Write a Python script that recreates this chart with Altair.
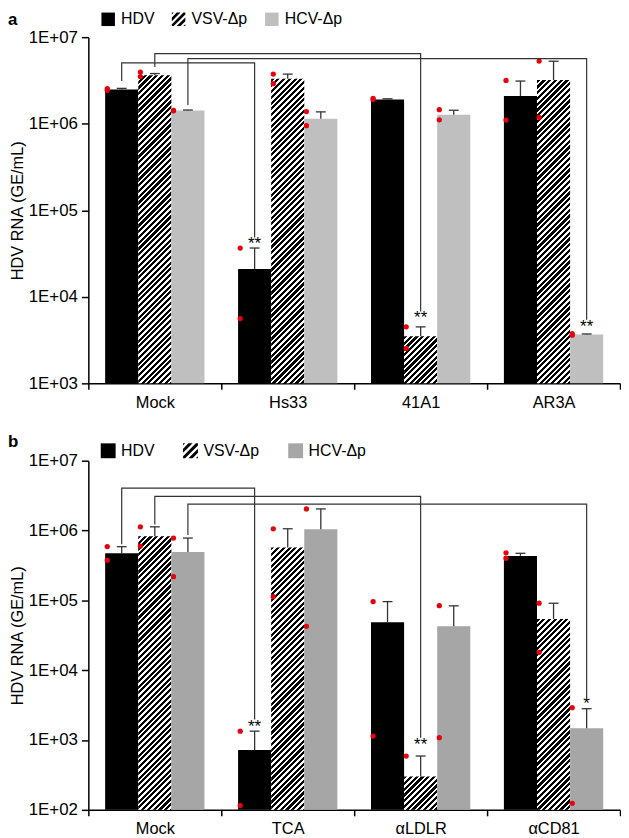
import json
import math
import altair as alt

FONT = "Liberation Sans"
SERIES = ["HDV", "VSV-Δp", "HCV-Δp"]

# ---------------- panel a ----------------
CATS_A = ["Mock", "Hs33", "41A1", "AR3A"]
HDV_A = [2.49e6, 2.1e4, 1.91e6, 2.09e6]
HDV_A_ERR = [2.56e6, 3.66e4, 1.94e6, 3.11e6]
VSV_A = [3.64e6, 3.3e6, 3.5e3, 3.19e6]
VSV_A_ERR = [3.8e6, 3.74e6, 4.49e3, 5.27e6]
HCV_A = [1.42e6, 1.14e6, 1.27e6, 3.66e3]
HCV_A_ERR = [1.44e6, 1.37e6, 1.43e6, 3.72e3]
HDV_A_PTS = [[2.55e6, 2.43e6], [3.66e4, 5.6e3], [1.96e6, 1.9e6], [3.16e6, 1.1e6]]
VSV_A_PTS = [[3.95e6, 3.5e6], [3.74e6, 2.9e6], [4.5e3, 2.53e3], [5.3e6, 1.18e6]]
HCV_A_PTS = [[1.43e6, 1.41e6], [1.38e6, 9.5e5], [1.45e6, 1.11e6], [3.75e3, 3.6e3]]
# significance brackets: from Mock to category BR_TO, same series
BR_A_SERIES = [0, 1, 2]
BR_A_TO = [1, 2, 3]
BR_A_LEVEL = [5.04e6, 6.44e6, 5.64e6]
BR_A_LEFT = [3.11e6, 4.53e6, 1.64e6]
BR_A_RIGHT = [4.85e4, 6.76e3, 5.43e3]
BR_A_STARS = ["**", "**", "**"]

# ---------------- panel b ----------------
CATS_B = ["Mock", "TCA", "αLDLR", "αCD81"]
HDV_B = [4.72e5, 7.2e2, 4.84e4, 4.33e5]
HDV_B_ERR = [5.87e5, 1.34e3, 9.6e4, 4.72e5]
VSV_B = [8.3e5, 5.7e5, 3.0e2, 5.4e4]
VSV_B_ERR = [1.13e6, 1.06e6, 5.9e2, 9.1e4]
HCV_B = [4.93e5, 1.04e6, 4.25e4, 1.48e3]
HCV_B_ERR = [7.8e5, 2.04e6, 8.35e4, 2.81e3]
HDV_B_PTS = [[5.9e5, 3.76e5], [1.34e3, 1.15e2], [9.6e4, 1.14e3], [4.8e5, 4.0e5]]
VSV_B_PTS = [[1.13e6, 6.0e5], [1.06e6, 1.13e5], [5.9e2], [9.1e4, 1.8e4]]
HCV_B_PTS = [[7.8e5, 2.18e5], [2.04e6, 4.25e4], [8.4e4, 1.08e3], [2.9e3, 1.24e2]]
BR_B_SERIES = [0, 1, 2]
BR_B_TO = [1, 2, 3]
BR_B_LEVEL = [4.05e6, 3.08e6, 2.39e6]
BR_B_LEFT = [6.36e5, 1.22e6, 8.6e5]
BR_B_RIGHT = [1.96e3, 1.08e3, 4.12e3]
BR_B_STARS = ["**", "**", "*"]

# ---------------- layout / style ----------------
PLOT_W = 536
BW = 0.249                      # bar width in category units
START = (1 - 3 * BW) / 2
CAP = 5 / (PLOT_W / 4)          # half cap width in category units
DOT_IN = 0.016
RED = "#e8000b"
LINE = "#333333"


def clip_half(poly, f):
    out = []
    n = len(poly)
    for k in range(n):
        p, q = poly[k], poly[(k + 1) % n]
        fp, fq = f(p), f(q)
        if fp >= 0:
            out.append(p)
        if (fp >= 0) != (fq >= 0):
            t = fp / (fp - fq)
            out.append((p[0] + t * (q[0] - p[0]), p[1] + t * (q[1] - p[1])))
    return out


def stripe_path():
    sq = [(-1, -1), (1, -1), (1, 1), (-1, 1)]
    bands = [(-2, -1.72), (-1.28, -0.72), (-0.28, 0.28), (0.72, 1.28), (1.72, 2)]
    parts = []
    for a, b in bands:
        poly = clip_half(sq, lambda p, a=a: p[0] + p[1] - a)
        poly = clip_half(poly, lambda p, b=b: b - (p[0] + p[1]))
        if len(poly) < 3:
            continue
        s = "M" + " L".join(f"{x:.3f},{y:.3f}" for x, y in poly) + " Z"
        parts.append(s)
    return " ".join(parts)


def hatch(w, h, period=5.8, frac=0.55):
    L = w + h
    n = L / period
    stops = []
    k = 0
    while k / n < 1:
        a = k / n
        b = min((k + frac) / n, 1.0)
        c = min((k + 1) / n, 1.0)
        stops += [{"offset": round(a, 5), "color": "black"},
                  {"offset": round(b, 5), "color": "black"}]
        if b < 1:
            stops += [{"offset": round(b, 5), "color": "white"},
                      {"offset": round(c, 5), "color": "white"}]
        k += 1
    cc = L / (w * w + h * h)
    return {"gradient": "linear", "x1": 0, "y1": 0,
            "x2": cc * w, "y2": cc * h, "stops": stops}


def panel(letter, cats, means, errs, pts, br, ymin, height, gray, leg):
    br_series, br_to, br_level, br_left, br_right, br_stars = br
    ppd = height / (7 - math.log10(ymin))
    bw_px = BW * PLOT_W / 4

    bars, errrows, dots, lines, stars = [], [], [], [], []
    for j in range(3):
        for i in range(4):
            m = means[j][i]
            x1 = i + START + j * BW
            if j == 0:
                fill = "#000000"
            elif j == 1:
                fill = hatch(bw_px, (math.log10(m) - math.log10(ymin)) * ppd)
            else:
                fill = gray
            bars.append({"x1": x1, "x2": x1 + BW, "m": m, "base": ymin, "fill": fill})
            xc = x1 + BW / 2
            errrows.append({"xc": xc, "m": m, "e": errs[j][i],
                            "cl": xc - CAP, "cr": xc + CAP})
            for v in pts[j][i]:
                dots.append({"xd": x1 + DOT_IN, "v": v})
    for b in range(len(br_series)):
        j = br_series[b]
        xa = START + j * BW + BW / 2
        xb = br_to[b] + START + j * BW + BW / 2
        seq = [(xa, br_left[b]), (xa, br_level[b]), (xb, br_level[b]), (xb, br_right[b])]
        for o, (x, y) in enumerate(seq):
            lines.append({"bx": x, "by": y, "bid": b, "ord": o})
        stars.append({"sx": xb, "sy": br_right[b], "t": br_stars[b]})

    xvals = [k / 2 for k in range(9)]
    label_expr = ("datum.value % 1 == 0 ? '' : "
                  + json.dumps(cats, ensure_ascii=False) + "[floor(datum.value)]")
    xaxis = alt.Axis(values=xvals, labelExpr=label_expr, title=None, tickSize=6,
                     labelPadding=5, labelOverlap=False, labelFlush=False,
                     labelFontSize=16.5,
                     tickOpacity={"condition": {"test": "datum.value % 1 != 0", "value": 0},
                                  "value": 1})
    yvals = [10 ** k for k in range(int(round(math.log10(ymin))), 8)]
    yaxis = alt.Axis(values=yvals, labelExpr="'1E+0' + round(log(datum.value) / LN10)",
                     title="HDV RNA (GE/mL)", tickSize=7, labelPadding=4, titlePadding=3,
                     labelFontSize=17)
    xs = alt.Scale(domain=[0, 4], nice=False, zero=False)
    ys = alt.Scale(type="log", domain=[ymin, 1e7], nice=False)

    def X(f):
        return alt.X(f, scale=xs, axis=xaxis)

    def Y(f):
        return alt.Y(f, scale=ys, axis=yaxis)

    bar_layer = alt.Chart(alt.Data(values=bars)).mark_rect().encode(
        x=X("x1:Q"), x2="x2:Q", y=Y("m:Q"), y2="base:Q",
        fill=alt.Fill("fill:N", scale=None),
    )
    stem = alt.Chart(alt.Data(values=errrows)).mark_rule(color=LINE, strokeWidth=1.3).encode(
        x=X("xc:Q"), y=Y("m:Q"), y2="e:Q")
    cap = alt.Chart(alt.Data(values=errrows)).mark_rule(color=LINE, strokeWidth=1.3).encode(
        x=X("cl:Q"), x2="cr:Q", y=Y("e:Q"))
    dot_layer = alt.Chart(alt.Data(values=dots)).mark_circle(
        color=RED, size=28, opacity=1).encode(x=X("xd:Q"), y=Y("v:Q"))
    br_layer = alt.Chart(alt.Data(values=lines)).mark_line(
        color=LINE, strokeWidth=1.2).encode(
        x=X("bx:Q"), y=Y("by:Q"), detail="bid:N", order="ord:Q")
    star_layer = alt.Chart(alt.Data(values=stars)).mark_text(
        font=FONT, fontSize=17, baseline="top", align="center", color="#000000", dy=-1).encode(
        x=X("sx:Q"), y=Y("sy:Q"), text="t:N")
    letter_layer = alt.Chart(alt.Data(values=[{"t": letter}])).mark_text(
        font=FONT, fontSize=17, fontWeight="bold", align="left", baseline="top",
        color="black").encode(x=alt.value(-81), y=alt.value(leg["letter_y"]), text="t:N")

    legend = alt.Legend(orient="none", legendX=leg["x"], legendY=leg["y"],
                        direction="horizontal", title=None, labelFont=FONT,
                        labelFontSize=16, labelColor="black", symbolSize=leg["size"],
                        symbolStrokeWidth=0, labelOffset=5, columnPadding=leg["gap"],
                        padding=0, symbolOpacity=1)
    leg_layer = alt.Chart(alt.Data(values=[{"s": s} for s in SERIES])).transform_filter(
        "false").mark_point(filled=True, opacity=1).encode(
        color=alt.Color("s:N", scale=alt.Scale(domain=SERIES,
                                               range=["#000000", "#000000", gray]),
                        legend=legend),
        shape=alt.Shape("s:N", scale=alt.Scale(domain=SERIES,
                                               range=["square", stripe_path(), "square"]),
                        legend=legend),
    )
    return alt.layer(bar_layer, stem, cap, dot_layer, br_layer, star_layer,
                     letter_layer, leg_layer).properties(width=PLOT_W, height=height)


pa = panel("a", CATS_A, [HDV_A, VSV_A, HCV_A], [HDV_A_ERR, VSV_A_ERR, HCV_A_ERR],
           [HDV_A_PTS, VSV_A_PTS, HCV_A_PTS],
           (BR_A_SERIES, BR_A_TO, BR_A_LEVEL, BR_A_LEFT, BR_A_RIGHT, BR_A_STARS),
           1e3, 349, "#bfbfbf",
           {"x": 12, "y": -26, "size": 185, "gap": 16, "letter_y": -25})
pb = panel("b", CATS_B, [HDV_B, VSV_B, HCV_B], [HDV_B_ERR, VSV_B_ERR, HCV_B_ERR],
           [HDV_B_PTS, VSV_B_PTS, HCV_B_PTS],
           (BR_B_SERIES, BR_B_TO, BR_B_LEVEL, BR_B_LEFT, BR_B_RIGHT, BR_B_STARS),
           1e2, 352, "#a6a6a6",
           {"x": 12, "y": -18, "size": 225, "gap": 28, "letter_y": -27})

chart = alt.vconcat(pa, pb, spacing=22).resolve_scale(
    color="independent", shape="independent", x="independent", y="independent"
).resolve_legend(color="independent", shape="independent").configure_view(
    stroke=None
).configure_axis(
    labelFont=FONT, titleFont=FONT, labelColor="black", titleColor="black",
    domainColor="black", tickColor="black", grid=False, labelFontSize=16,
    titleFontSize=16.5, titleFontWeight="normal", domainWidth=1.5, tickWidth=1.5,
).properties(padding=0, background="white")

chart.save("out.html", embed_options={"renderer": "svg", "actions": False})
